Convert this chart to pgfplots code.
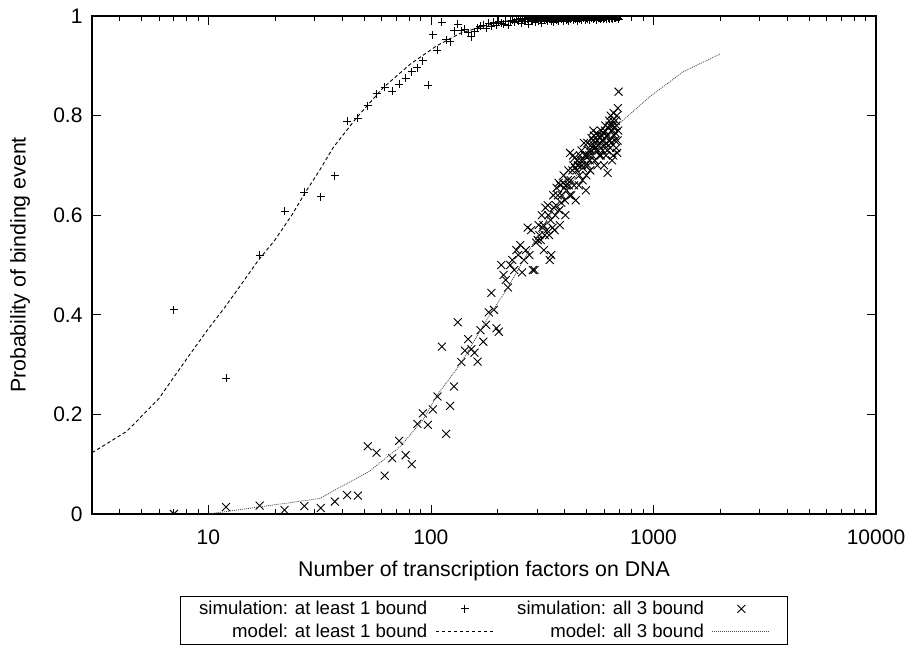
\documentclass[border=0pt]{standalone}
\usepackage{fontspec}
\setmainfont{Liberation Sans}
\usepackage{pgfplots}
\usepackage{pgfplotstable}
\pgfplotsset{compat=1.18}
\pgfplotsset{
  linelegend/.style={legend image code/.code={\draw[##1] (0pt,0pt) -- (58pt,0pt);}},
  marklegend/.style={legend image code/.code={\draw[mark repeat=2,mark phase=2,##1] plot coordinates {(0pt,0pt) (29pt,0pt) (58pt,0pt)};}},
}
\pgfplotstableread{
x y
7 0.41
12 0.273
17 0.52
22 0.608
27 0.646
32 0.637
37 0.679
42 0.789
47 0.795
52 0.82
57 0.844
62 0.857
67 0.849
72 0.863
77 0.875
82 0.888
87 0.896
92 0.91
97 0.861
102 0.962
107 0.931
112 0.987
117 0.952
122 0.948
127 0.97
132 0.983
137 0.97
142 0.973
147 0.966
152 0.958
157 0.968
162 0.975
167 0.98
172 0.982
177 0.975
182 0.985
187 0.98
192 0.987
197 0.982
202 0.99
207 0.985
212 0.983
217 0.99
222 0.982
227 0.99
232 0.992
237 0.987
242 0.994
247 0.99
252 0.996
257 0.992
262 0.989
267 0.995
272 0.993
277 0.997
282 0.99
287 0.996
292 0.994
297 0.998
302 0.993
307 0.996
312 0.992
317 0.997
322 0.995
327 0.999
332 0.993
337 0.997
342 0.996
347 0.99
352 0.998
357 0.995
362 0.997
367 0.999
372 0.994
377 0.998
382 0.996
387 1.0
392 0.995
397 0.998
402 0.997
407 0.999
412 0.994
417 0.998
422 1.0
427 0.996
432 0.998
437 0.997
442 0.999
447 0.995
452 0.998
457 1.0
462 0.997
467 0.999
472 0.996
477 0.998
482 1.0
487 0.997
492 0.999
497 0.998
502 0.996
507 1.0
512 0.998
517 0.999
522 0.997
527 1.0
532 0.998
537 0.996
542 0.999
547 1.0
552 0.997
557 0.999
562 0.998
567 1.0
572 0.996
577 0.999
582 0.998
587 1.0
592 0.997
597 0.999
602 1.0
607 0.998
612 0.999
617 0.997
622 1.0
627 0.999
632 0.998
637 1.0
642 0.999
647 0.997
652 1.0
657 0.998
662 0.999
667 1.0
672 0.998
677 0.999
682 1.0
687 0.997
692 0.999
697 0.994
255 0.986
265 0.99
275 0.984
285 0.992
295 0.988
305 0.99
315 0.986
325 0.992
335 0.989
345 0.994
355 0.988
365 0.992
375 0.99
385 0.993
395 0.989
405 0.992
415 0.99
425 0.994
435 0.991
445 0.993
455 0.99
465 0.994
475 0.992
485 0.995
495 0.991
505 0.994
515 0.992
525 0.995
535 0.993
545 0.996
555 0.992
565 0.995
575 0.993
585 0.996
595 0.993
605 0.995
615 0.994
625 0.996
635 0.993
645 0.996
655 0.994
665 0.996
675 0.995
685 0.997
695 0.996
}\simone
\pgfplotstableread{
x y
7 0.0
12 0.014
17 0.017
22 0.008
27 0.016
32 0.012
37 0.025
42 0.038
47 0.037
52 0.136
57 0.123
62 0.077
67 0.112
72 0.147
77 0.118
82 0.10
87 0.181
92 0.202
97 0.179
102 0.21
107 0.236
112 0.336
117 0.161
122 0.217
127 0.256
132 0.385
137 0.305
142 0.328
147 0.351
152 0.331
157 0.324
162 0.306
167 0.369
172 0.346
177 0.38
182 0.405
187 0.444
192 0.41
197 0.373
202 0.366
207 0.50
212 0.48
217 0.47
222 0.455
227 0.50
232 0.51
237 0.49
242 0.53
247 0.52
252 0.54
257 0.485
262 0.51
267 0.53
272 0.575
277 0.52
282 0.57
287 0.49
292 0.49
297 0.545
302 0.55
307 0.56
312 0.55
317 0.575
322 0.53
327 0.615
332 0.57
337 0.60
342 0.51
347 0.52
352 0.575
357 0.615
362 0.60
367 0.655
372 0.64
377 0.61
382 0.66
387 0.64
392 0.665
397 0.655
402 0.60
407 0.65
412 0.67
417 0.66
422 0.725
427 0.64
432 0.69
437 0.70
442 0.715
447 0.63
452 0.69
457 0.70
462 0.66
467 0.72
472 0.71
477 0.70
482 0.695
487 0.745
492 0.72
497 0.65
502 0.72
507 0.70
512 0.73
517 0.71
522 0.74
527 0.755
532 0.72
537 0.77
542 0.74
547 0.735
552 0.73
557 0.75
562 0.76
567 0.74
572 0.72
577 0.755
582 0.77
587 0.75
592 0.73
597 0.765
602 0.74
607 0.78
612 0.72
617 0.76
622 0.685
627 0.775
632 0.79
637 0.75
642 0.80
647 0.77
652 0.71
657 0.78
662 0.805
667 0.76
672 0.75
677 0.79
682 0.78
687 0.725
692 0.815
697 0.848
305 0.58
315 0.60
325 0.56
335 0.62
345 0.59
355 0.64
365 0.62
375 0.665
385 0.625
395 0.68
405 0.66
415 0.69
425 0.67
435 0.72
445 0.695
455 0.71
465 0.68
475 0.73
485 0.71
495 0.70
505 0.745
515 0.72
525 0.73
535 0.75
545 0.71
555 0.765
565 0.73
575 0.745
585 0.76
595 0.75
605 0.77
615 0.745
625 0.76
635 0.78
645 0.745
655 0.79
665 0.775
675 0.765
685 0.80
695 0.77
690 0.75
680 0.735
660 0.72
640 0.735
620 0.73
600 0.70
580 0.72
560 0.70
540 0.76
520 0.69
500 0.68
480 0.67
460 0.70
440 0.66
420 0.64
400 0.63
380 0.58
360 0.57
340 0.56
320 0.58
}\simthree
\pgfplotstableread{
x y
3 0.123
4.3 0.166
6 0.232
7 0.275
8.4 0.325
10 0.372
11.9 0.416
14 0.46
16.8 0.51
19.9 0.55
23.7 0.60
27.2 0.645
31.6 0.69
36.4 0.736
46.4 0.796
61 0.856
80.6 0.903
106 0.940
135 0.965
170 0.979
220 0.99
300 0.996
400 0.999
700 1.0
}\modone
\pgfplotstableread{
x y
10 0.0
31.6 0.031
53 0.086
59 0.103
72.6 0.135
92 0.189
106 0.237
135 0.300
184 0.40
222 0.455
331 0.59
468 0.69
706 0.785
963 0.838
1360 0.888
2000 0.924
}\modthree
\begin{document}
\begin{tikzpicture}
\path[use as bounding box] (-92pt,-140pt) rectangle (814pt,514pt);
\begin{axis}[
  at={(0,0)}, anchor=south west,
  scale only axis, width=784pt, height=498pt,
  xmode=log, xmin=3, xmax=10000, ymin=0, ymax=1,
  xtick={10,100,1000,10000}, xticklabels={10,100,1000,10000},
  minor xtick={4,5,6,7,8,9,20,30,40,50,60,70,80,90,200,300,400,500,600,700,800,900,2000,3000,4000,5000,6000,7000,8000,9000},
  ytick={0,0.2,0.4,0.6,0.8,1},
  major tick length=9pt, minor tick length=5pt,
  tick style={black, line width=0.8pt},
  axis line style={line width=1.2pt},
  tick align=inside,
  /pgf/number format/assume math mode=true,
  ticklabel style={font=\fontsize{21}{25}\selectfont},
  yticklabel style={xshift=-6pt},
  xticklabel style={yshift=-12pt},
  xlabel={Number of transcription factors on DNA},
  ylabel={Probability of binding event},
  label style={font=\fontsize{21.3}{25}\selectfont},
  xlabel style={at={(axis description cs:0.5,-0.088)}, anchor=north},
  ylabel style={at={(axis description cs:-0.0918,0.5)}, anchor=center},
  clip marker paths=true,
  legend columns=2,
  legend cell align=right,
  legend plot pos=right,
  legend style={at={(0.5,-0.1647)}, anchor=north, draw=black, line width=0.8pt,
    font=\fontsize{18.6}{22}\selectfont, column sep=6pt,
    /tikz/every even column/.append style={column sep=21pt},
    inner xsep=17pt, inner ysep=3pt, row sep=4pt},
]
\addplot[only marks, mark=+, mark size=4pt, black, line width=0.9pt, marklegend] table {\simone};
\addlegendentry{simulation: at least 1 bound}
\addplot[only marks, mark=x, mark size=5.6pt, black, line width=0.9pt, marklegend] table {\simthree};
\addlegendentry{simulation: all 3 bound}
\addplot[black, line width=0.9pt, dash pattern=on 3.5pt off 2.5pt, linelegend] table {\modone};
\addlegendentry{model: at least 1 bound}
\addplot[black!70, line width=0.8pt, dash pattern=on 1pt off 1pt, linelegend] table {\modthree};
\addlegendentry{model: all 3 bound}
\end{axis}
\end{tikzpicture}
\end{document}
